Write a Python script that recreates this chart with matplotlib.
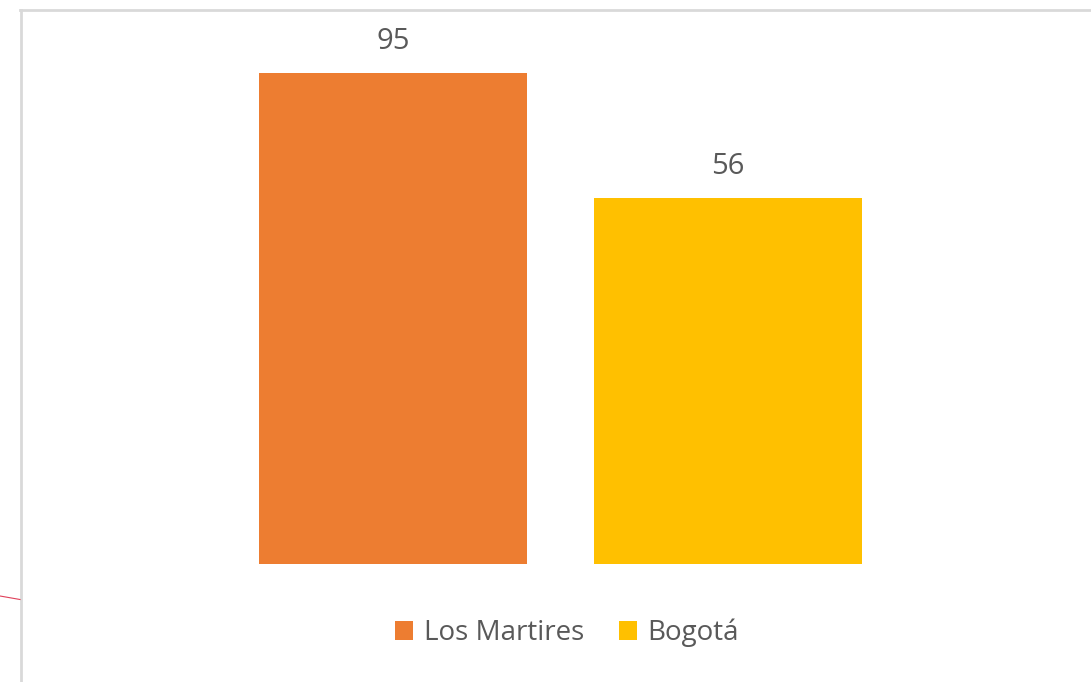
import matplotlib
matplotlib.use("Agg")
import matplotlib.pyplot as plt
from matplotlib.patches import Patch
from matplotlib.lines import Line2D

categories = ["Los Martires", "Bogotá"]
values = [95, 56]
colors = ["#ED7D31", "#FFC000"]
labels = ["95", "56"]

W, H = 1091, 682
DPI = 100
plt.rcParams['font.family'] = ['Open Sans', 'DejaVu Sans']
fig = plt.figure(figsize=(W / DPI, H / DPI), dpi=DPI)
fig.patch.set_facecolor("white")

# axis geometry (pixels)
left_px, right_px = 226, 895
bottom_px, top_px = 564, 20
ax = fig.add_axes([left_px / W, 1 - bottom_px / H, (right_px - left_px) / W, (bottom_px - top_px) / H])
BASE = -58.7
px_per_unit = 3.192
ymax = BASE + (bottom_px - top_px) / px_per_unit
ax.set_ylim(BASE, ymax)
ax.set_xlim(-0.5, 1.5)

x = range(len(categories))
ax.bar(x, [v - BASE for v in values], bottom=BASE, width=0.8, color=colors)
for xi, v, lab in zip(x, values, labels):
    ax.annotate(lab, (xi, v), xytext=(0, 24), textcoords="offset pixels",
                ha="center", va="baseline", fontsize=21, color="#595959")
ax.axis("off")

# legend
handles = [Patch(facecolor=c, edgecolor="none", label=l) for c, l in zip(colors, categories)]
fig.legend(handles=handles, loc="center", bbox_to_anchor=(567 / W, 1 - 633 / H), ncol=2,
           frameon=False, fontsize=20, labelcolor="#595959", handlelength=0.64, handleheight=0.64,
           handletextpad=0.4, columnspacing=1.25, borderpad=0)

# chart frame (gray) and red stray line
fig.add_artist(Line2D([21.3 / W, 21.3 / W], [0, 1 - 9.5 / H], transform=fig.transFigure,
                      color="#d9d9d9", lw=2))
fig.add_artist(Line2D([20.3 / W, 1], [1 - 9.5 / H, 1 - 9.5 / H], transform=fig.transFigure,
                      color="#d9d9d9", lw=2))
fig.add_artist(Line2D([0, 20 / W], [1 - 596 / H, 1 - 599.5 / H], transform=fig.transFigure,
                      color="#e0405a", lw=0.8))

fig.savefig("out.png", dpi=DPI, facecolor="white")
